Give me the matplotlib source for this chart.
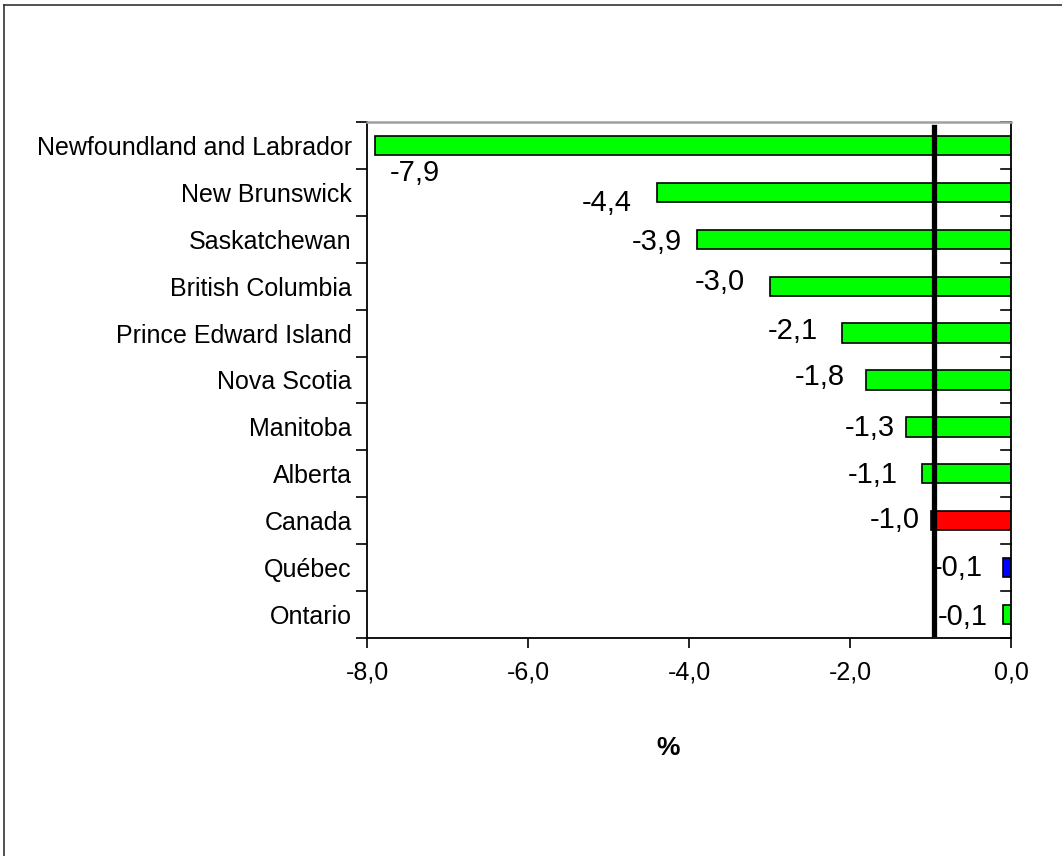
import matplotlib
matplotlib.use('Agg')
import matplotlib.pyplot as plt
from matplotlib.lines import Line2D
from matplotlib.ticker import FixedLocator, FuncFormatter

plt.rcParams['font.family'] = ['Liberation Sans', 'DejaVu Sans']

# ── data ─────────────────────────────────────────────────────────────────────
provinces = ['Newfoundland and Labrador', 'New Brunswick', 'Saskatchewan',
             'British Columbia', 'Prince Edward Island', 'Nova Scotia',
             'Manitoba', 'Alberta', 'Canada', 'Québec', 'Ontario']
change = [-7.9, -4.4, -3.9, -3.0, -2.1, -1.8, -1.3, -1.1, -1.0, -0.1, -0.1]
bar_colors = ['#00FF00'] * 8 + ['#FF0000', '#0000FF', '#00FF00']
ref_line = -0.96

# label nudges (pixels, relative to bar end)
label_dx = [65, -25, -15, -25, -24, -21, -11, -25, -11, -20, -15]
label_dy = [-28, -11, -3, 4, 2, 3, -1, -1, 1, 0, -2]

fig = plt.figure(figsize=(10.62, 8.56), dpi=100)
ax = fig.add_axes([0.3456, 0.2547, 0.6064, 0.6028])

ypos = list(range(len(provinces)))
ax.barh(ypos, change, height=0.41, color=bar_colors, edgecolor='black',
        linewidth=1.2, zorder=2)
ax.axvline(ref_line, ymin=0.008, ymax=0.99, color='black', lw=3.8, zorder=3)

for y, v, dx, dy in zip(ypos, change, label_dx, label_dy):
    ax.annotate(f'{v:.1f}'.replace('.', ','), xy=(v, y),
                xytext=(dx, dy), textcoords='offset pixels',
                ha='right', va='center', fontsize=21, zorder=4)

ax.set_xlim(-8, 0)
ax.set_ylim(len(provinces) - 0.5, -0.5)

ax.xaxis.set_major_locator(FixedLocator([-8, -6, -4, -2, 0]))
ax.xaxis.set_major_formatter(FuncFormatter(lambda x, _: f'{x:.1f}'.replace('.', ',')))
ax.tick_params(axis='x', direction='out', length=7, width=1.2, labelsize=18, pad=9)

ax.set_yticks(ypos)
ax.set_yticklabels(provinces, fontsize=18)
ax.tick_params(axis='y', which='major', length=0, pad=11)
ax.yaxis.set_minor_locator(FixedLocator([i - 0.5 for i in range(len(provinces) + 1)]))
ax.tick_params(axis='y', which='minor', direction='out', length=8, width=1.2,
               left=True, right=False)

for side in ('left', 'bottom', 'right'):
    ax.spines[side].set_linewidth(1.3)
    ax.spines[side].set_color('black')
ax.spines['top'].set_color('#A0A0A0')
ax.spines['top'].set_linewidth(1.8)

# inward ticks along the zero line
for yb in [i - 0.5 for i in range(len(provinces) + 1)]:
    ax.plot([-0.13, 0], [yb, yb], color='black', lw=1.2, zorder=1,
            clip_on=False)

fig.text(0.629, 0.126, '%', fontsize=19, fontweight='bold', ha='center', va='center')

# outer frame
fig.add_artist(Line2D([0.004, 0.004], [0, 0.994], color='#333333', lw=1.2))
fig.add_artist(Line2D([0.004, 1.0], [0.994, 0.994], color='#333333', lw=1.2))

fig.savefig('out.png', dpi=100)
